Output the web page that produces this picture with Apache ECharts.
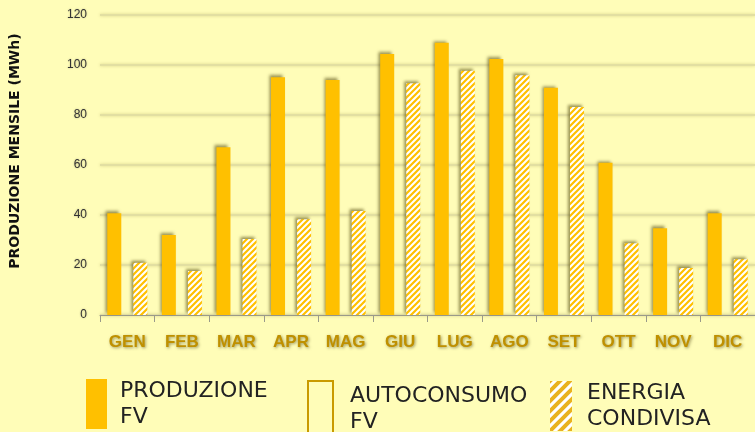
<!DOCTYPE html>
<html>
<head>
<meta charset="utf-8">
<script src="https://cdn.jsdelivr.net/npm/echarts@6/dist/echarts.min.js"></script>
<style>
  html, body { margin: 0; padding: 0; background: #FFFDB8; }
  #main { width: 755px; height: 432px; }
</style>
</head>
<body>
<div id="main"></div>
<script>
var mesi = ['GEN', 'FEB', 'MAR', 'APR', 'MAG', 'GIU', 'LUG', 'AGO', 'SET', 'OTT', 'NOV', 'DIC'];
var produzione = [40.7, 32, 67.1, 95.1, 94, 104.4, 108.9, 102.4, 90.9, 60.9, 34.7, 40.7];
var condivisa = [20.9, 17.6, 30.4, 38.3, 41.6, 92.7, 97.7, 95.9, 83.2, 28.7, 18.8, 22.3];
var autoconsumo = []; // only in the legend, no bars visible

// striped fill for "energia condivisa"
function stripes(size, lw, col) {
    var c = document.createElement('canvas');
    c.width = size; c.height = size;
    var ctx = c.getContext('2d');
    ctx.fillStyle = '#ffffff';
    ctx.fillRect(0, 0, size, size);
    ctx.strokeStyle = col;
    ctx.lineWidth = lw;
    ctx.beginPath();
    ctx.moveTo(0, size); ctx.lineTo(size, 0);
    ctx.moveTo(-size / 2, size / 2); ctx.lineTo(size / 2, -size / 2);
    ctx.moveTo(size / 2, size * 1.5); ctx.lineTo(size * 1.5, size / 2);
    ctx.stroke();
    return c;
}

var chart = echarts.init(document.getElementById('main'), null, { renderer: 'canvas' });

var barShadow = {
    shadowColor: 'rgba(70,60,0,0.55)',
    shadowBlur: 3,
    shadowOffsetX: -2,
    shadowOffsetY: -2
};

var legendText = {
    fontFamily: 'DejaVu Sans',
    fontSize: 22,
    color: '#222',
    lineHeight: 26
};
function twoLines(n) { return n.replace(' ', '\n'); }

var option = {
    backgroundColor: '#FFFDB8',
    animation: false,
    grid: { left: 100, right: 0, top: 15, bottom: 117 },
    legend: [{
        data: [{ name: 'PRODUZIONE FV', icon: 'rect' }],
        left: 81, top: 371,
        itemWidth: 21, itemHeight: 50,
        textStyle: Object.assign({ padding: [4, 0, 0, 8] }, legendText),
        formatter: twoLines
    }, {
        data: [{ name: 'AUTOCONSUMO FV', icon: 'rect' }],
        left: 302, top: 375,
        itemWidth: 25, itemHeight: 56,
        textStyle: Object.assign({ padding: [4, 0, 0, 12] }, legendText),
        formatter: twoLines
    }, {
        data: [{
            name: 'ENERGIA CONDIVISA', icon: 'rect',
            itemStyle: { color: { image: stripes(10, 4, '#E9B21E'), repeat: 'repeat' }, shadowBlur: 0, shadowOffsetX: 0, shadowOffsetY: 0 }
        }],
        left: 545, top: 375,
        itemWidth: 22, itemHeight: 50,
        textStyle: Object.assign({ padding: [0, 0, 0, 10] }, legendText),
        formatter: twoLines
    }],
    xAxis: {
        type: 'category',
        data: mesi,
        axisLine: { lineStyle: { color: '#9a9a8a', width: 1 } },
        axisTick: { show: true, length: 7, lineStyle: { color: '#9a9a8a' } },
        axisLabel: {
            margin: 19,
            fontFamily: 'Liberation Sans',
            fontWeight: 'bold',
            fontSize: 17,
            color: '#BF9000',
            textShadowColor: 'rgba(60,50,0,0.5)',
            textShadowBlur: 3,
            textShadowOffsetX: 1,
            textShadowOffsetY: 1
        }
    },
    yAxis: {
        type: 'value',
        min: 0, max: 120, interval: 20,
        name: 'PRODUZIONE MENSILE (MWh)',
        nameLocation: 'middle',
        nameRotate: 90,
        nameGap: 78,
        nameTextStyle: {
            fontFamily: 'DejaVu Sans',
            fontWeight: 'bold',
            fontSize: 14,
            color: '#111',
            padding: [0, 0, 0, 28]
        },
        axisLine: { show: false },
        axisTick: { show: false },
        axisLabel: {
            margin: 13,
            fontFamily: 'Liberation Sans',
            fontSize: 12,
            color: '#333',
            textShadowColor: 'rgba(0,0,0,0.3)',
            textShadowBlur: 2
        },
        splitLine: {
            lineStyle: {
                color: '#E2DFA2', width: 2,
                shadowColor: 'rgba(90,80,0,0.25)', shadowBlur: 3
            }
        }
    },
    series: [{
        name: 'PRODUZIONE FV',
        type: 'bar',
        stack: 'fv',
        data: produzione,
        barWidth: 14,
        barGap: '86%',
        itemStyle: Object.assign({ color: '#FFC000' }, barShadow)
    }, {
        name: 'AUTOCONSUMO FV',
        type: 'bar',
        stack: 'fv',
        data: autoconsumo,
        barWidth: 14,
        itemStyle: { color: 'rgba(0,0,0,0)', borderColor: '#C99A00', borderWidth: 2.5 }
    }, {
        name: 'ENERGIA CONDIVISA',
        type: 'bar',
        data: condivisa,
        barWidth: 14,
        barGap: '86%',
        itemStyle: Object.assign({
            color: { image: stripes(6, 2.2, '#FFC000'), repeat: 'repeat' }
        }, barShadow)
    }]
};

chart.setOption(option);
</script>
</body>
</html>
